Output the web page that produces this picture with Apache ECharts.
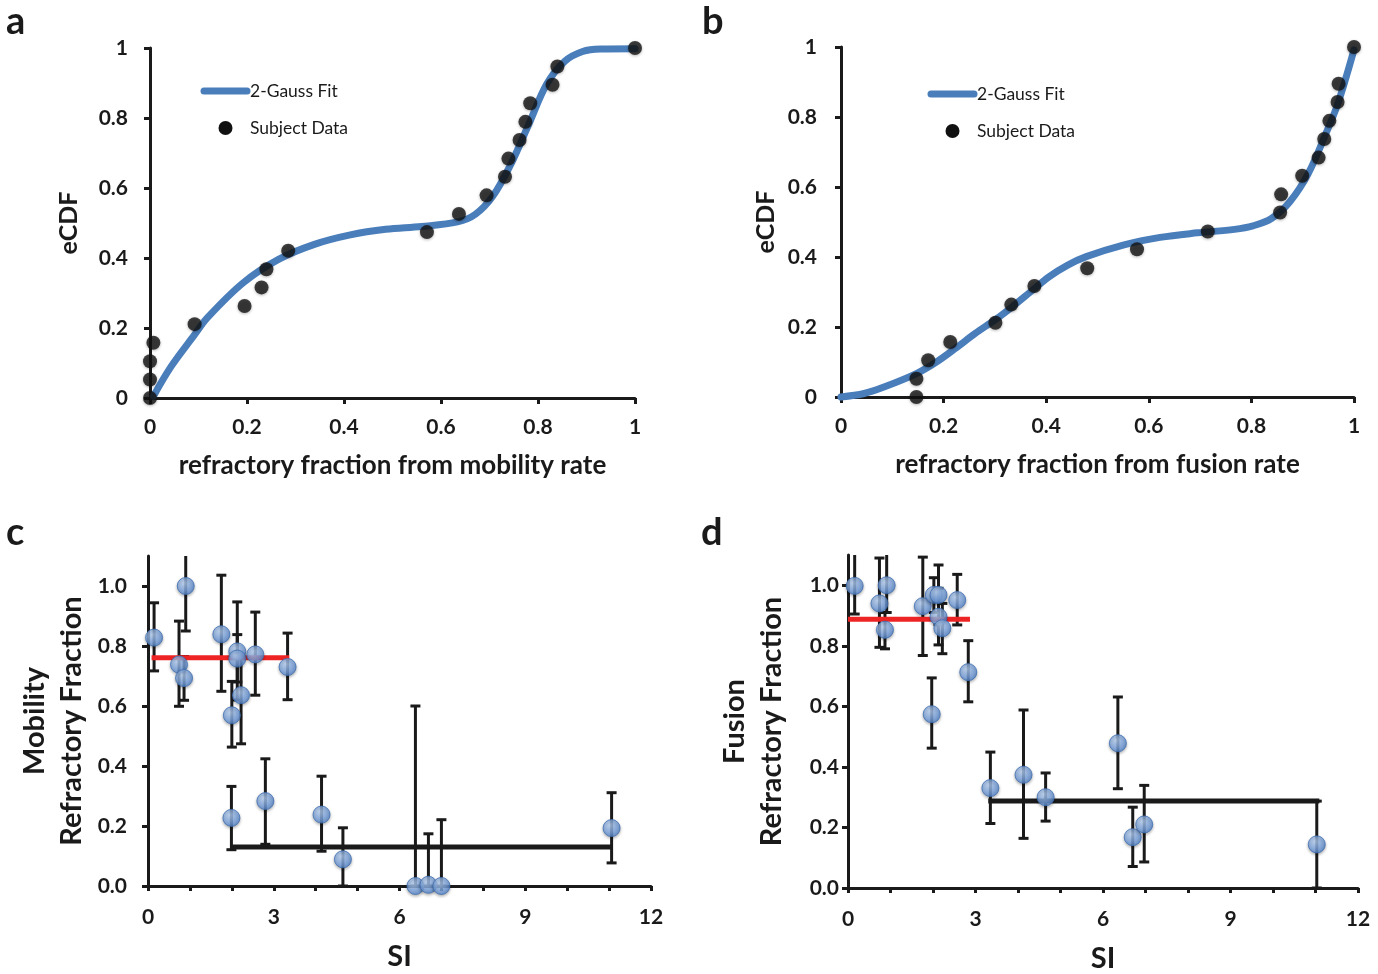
<!DOCTYPE html>
<html>
<head>
<meta charset="utf-8">
<script src="https://cdn.jsdelivr.net/npm/echarts@6/dist/echarts.min.js"></script>
<style>
html,body{margin:0;padding:0;background:#fff;}
#chart{width:1378px;height:974px;}
</style>
</head>
<body>
<div id="chart"></div>
<script>
// ---------- Panel a : eCDF of refractory fraction from mobility rate ----------
var aDataX = [0, 0, 0, 0.007, 0.092, 0.195, 0.230, 0.240, 0.285, 0.571, 0.637, 0.694, 0.732, 0.739, 0.762, 0.774, 0.784, 0.830, 0.840, 1.0];
var aDataY = [0, 0.053, 0.105, 0.158, 0.211, 0.263, 0.316, 0.368, 0.421, 0.474, 0.526, 0.579, 0.632, 0.684, 0.737, 0.789, 0.842, 0.895, 0.947, 1.0];
var aFitX = [0.007, 0.044, 0.092, 0.118, 0.192, 0.265, 0.339, 0.413, 0.486, 0.560, 0.634, 0.671, 0.707, 0.744, 0.781, 0.818, 0.855, 0.892, 0.929, 1.0];
var aFitY = [0.005, 0.091, 0.181, 0.229, 0.329, 0.396, 0.439, 0.466, 0.482, 0.490, 0.503, 0.525, 0.577, 0.668, 0.782, 0.897, 0.962, 0.990, 0.997, 0.998];

// ---------- Panel b : eCDF of refractory fraction from fusion rate ----------
var bDataX = [0.147, 0.147, 0.170, 0.213, 0.301, 0.332, 0.377, 0.480, 0.577, 0.715, 0.856, 0.858, 0.899, 0.931, 0.942, 0.952, 0.968, 0.970, 1.0];
var bDataY = [0, 0.052, 0.105, 0.157, 0.212, 0.264, 0.317, 0.368, 0.422, 0.473, 0.527, 0.579, 0.632, 0.684, 0.737, 0.789, 0.843, 0.895, 1.0];
var bFitX = [0, 0.045, 0.081, 0.147, 0.189, 0.225, 0.261, 0.301, 0.334, 0.370, 0.406, 0.442, 0.478, 0.550, 0.622, 0.695, 0.767, 0.803, 0.839, 0.875, 0.911, 0.947, 0.969, 1.0];
var bFitY = [0, 0.010, 0.027, 0.067, 0.103, 0.141, 0.181, 0.221, 0.258, 0.301, 0.344, 0.377, 0.401, 0.434, 0.456, 0.469, 0.479, 0.489, 0.510, 0.558, 0.639, 0.759, 0.840, 0.992];

// ---------- Panel c : Mobility refractory fraction vs SI ----------
var cSI   = [0.145, 0.90, 0.74, 0.86, 1.75, 2.13, 2.13, 2.00, 2.22, 2.56, 3.33, 1.99, 2.80, 4.14, 4.65, 6.38, 6.69, 7.00, 11.06];
var cVal  = [0.828, 1.000, 0.738, 0.693, 0.839, 0.782, 0.758, 0.569, 0.636, 0.772, 0.730, 0.227, 0.283, 0.238, 0.089, 0.000, 0.004, 0.000, 0.193];
var cLow  = [0.717, 0.850, 0.599, 0.619, 0.649, 0.620, 0.680, 0.463, 0.474, 0.636, 0.621, 0.121, 0.139, 0.116, 0.000, 0.000, 0.000, 0.000, 0.077];
var cHigh = [0.944, 1.150, 0.883, 0.765, 1.036, 0.947, 0.838, 0.682, 0.760, 0.913, 0.843, 0.332, 0.424, 0.366, 0.194, 0.600, 0.174, 0.221, 0.311];
var cMeanLowSI  = {y: 0.761, x: [0.085, 3.37]};
var cMeanHighSI = {y: 0.130, x: [1.99, 11.06]};

// ---------- Panel d : Fusion refractory fraction vs SI ----------
var dSI   = [0.157, 0.74, 0.91, 0.87, 1.76, 2.02, 2.13, 2.13, 2.22, 2.57, 2.83, 1.97, 3.35, 4.13, 4.65, 6.35, 6.70, 6.97, 11.03];
var dVal  = [0.998, 0.940, 1.000, 0.853, 0.931, 0.968, 0.968, 0.896, 0.858, 0.951, 0.713, 0.574, 0.330, 0.374, 0.300, 0.478, 0.168, 0.210, 0.144];
var dLow  = [0.905, 0.795, 0.910, 0.790, 0.768, 0.910, 0.870, 0.803, 0.774, 0.869, 0.615, 0.462, 0.213, 0.164, 0.221, 0.328, 0.071, 0.086, 0.000];
var dHigh = [1.150, 1.090, 1.150, 0.910, 1.093, 1.025, 1.067, 0.990, 0.940, 1.036, 0.817, 0.694, 0.449, 0.588, 0.380, 0.631, 0.267, 0.339, 0.287];
var dMeanLowSI  = {y: 0.888, x: [0.0, 2.87]};
var dMeanHighSI = {y: 0.287, x: [3.30, 11.09]};

// ---------- tick labels / legend ----------
var cdfTicks = [0, 0.2, 0.4, 0.6, 0.8, 1];
var siLabelTicks = [0, 3, 6, 9, 12];
var fracTicks = [0, 0.2, 0.4, 0.6, 0.8, 1.0];
var legendNames = ['2-Gauss Fit', 'Subject Data'];

var FONT = 'Lato';
var INK = '#1a1a1a';

function zip(xs, ys) { return xs.map(function (x, i) { return [x, ys[i]]; }); }
function zip3(xs, a, b) { return xs.map(function (x, i) { return [x, a[i], b[i]]; }); }

var chart = echarts.init(document.getElementById('chart'), null, {renderer: 'canvas'});

var grids = [
  {left: 150, top: 48, width: 485, height: 350},
  {left: 841, top: 47, width: 513, height: 350},
  {left: 148, top: 556, width: 503, height: 330},
  {left: 848, top: 555, width: 510, height: 334}
];

function axisBase(extra) {
  var o = {
    type: 'value',
    axisLine: {show: true, onZero: false, lineStyle: {color: INK, width: 3}},
    axisTick: {show: true, inside: false, length: 6, lineStyle: {color: INK, width: 3}},
    splitLine: {show: false},
    axisLabel: {color: INK, fontFamily: FONT, fontWeight: 'bold', fontSize: 21},
    nameTextStyle: {color: INK, fontFamily: FONT, fontWeight: 'bold'}
  };
  for (var k in extra) {
    if (typeof extra[k] === 'object' && !Array.isArray(extra[k]) && o[k]) {
      for (var j in extra[k]) o[k][j] = extra[k][j];
    } else o[k] = extra[k];
  }
  return o;
}

var xAxes = [
  axisBase({gridIndex: 0, min: 0, max: 1, interval: 0.2, name: 'refractory fraction from mobility rate',
    nameLocation: 'middle', nameGap: 55, nameTextStyle: {fontSize: 26},
    axisLabel: {margin: 19, customValues: cdfTicks}}),
  axisBase({gridIndex: 1, min: 0, max: 1, interval: 0.2, name: 'refractory fraction from fusion rate',
    nameLocation: 'middle', nameGap: 55, nameTextStyle: {fontSize: 26},
    axisLabel: {margin: 19, customValues: cdfTicks}}),
  axisBase({gridIndex: 2, min: 0, max: 12, interval: 1, name: 'SI',
    nameLocation: 'middle', nameGap: 56, nameTextStyle: {fontSize: 29},
    axisTick: {length: 5},
    axisLabel: {margin: 21, customValues: siLabelTicks}}),
  axisBase({gridIndex: 3, min: 0, max: 12, interval: 1, name: 'SI',
    nameLocation: 'middle', nameGap: 56, nameTextStyle: {fontSize: 29},
    axisTick: {length: 5},
    axisLabel: {margin: 21, customValues: siLabelTicks}})
];

var yAxes = [
  axisBase({gridIndex: 0, min: 0, max: 1, interval: 0.2, name: 'eCDF', nameLocation: 'middle', nameRotate: 90,
    nameGap: 69, nameTextStyle: {fontSize: 25}, axisLabel: {margin: 22, customValues: cdfTicks}}),
  axisBase({gridIndex: 1, min: 0, max: 1, interval: 0.2, name: 'eCDF', nameLocation: 'middle', nameRotate: 90,
    nameGap: 63, nameTextStyle: {fontSize: 25}, axisLabel: {margin: 24, customValues: cdfTicks}}),
  axisBase({gridIndex: 2, min: 0, max: 1.1, interval: 0.1, name: 'Mobility\nRefractory Fraction', nameLocation: 'middle', nameRotate: 90,
    nameGap: 58, nameTextStyle: {fontSize: 29, lineHeight: 37, align: 'center'},
    axisTick: {customValues: fracTicks},
    axisLabel: {margin: 21, customValues: fracTicks, formatter: function (v) { return v.toFixed(1); }}}),
  axisBase({gridIndex: 3, min: 0, max: 1.1, interval: 0.1, name: 'Fusion\nRefractory Fraction', nameLocation: 'middle', nameRotate: 90,
    nameGap: 58, nameTextStyle: {fontSize: 29, lineHeight: 37, align: 'center'},
    axisTick: {customValues: fracTicks},
    axisLabel: {margin: 9, customValues: fracTicks, formatter: function (v) { return v.toFixed(1); }}})
];

var fitColor = '#4a7ebb';

function fitSeries(idx, xs, ys) {
  return {name: legendNames[0], type: 'line', xAxisIndex: idx, yAxisIndex: idx, data: zip(xs, ys),
    smooth: 0.35, symbol: 'none', clip: false,
    lineStyle: {color: fitColor, width: 7, cap: 'round', join: 'round'}, itemStyle: {color: fitColor}, z: 2};
}
function dotSeries(idx, xs, ys) {
  return {name: legendNames[1], type: 'scatter', xAxisIndex: idx, yAxisIndex: idx, data: zip(xs, ys),
    symbol: 'circle', symbolSize: 14, clip: false,
    itemStyle: {color: '#111', shadowBlur: 3, shadowColor: 'rgba(0,0,0,0.35)', shadowOffsetY: 1}, z: 3};
}
function errSeries(idx, xs, lo, hi) {
  return {type: 'custom', xAxisIndex: idx, yAxisIndex: idx, data: zip3(xs, lo, hi), clip: true, z: 2,
    renderItem: function (params, api) {
      var x = api.value(0);
      var p1 = api.coord([x, api.value(1)]);
      var p2 = api.coord([x, api.value(2)]);
      var cap = 5;
      var st = {stroke: INK, lineWidth: 3};
      return {type: 'group', children: [
        {type: 'line', shape: {x1: p1[0], y1: p1[1], x2: p2[0], y2: p2[1]}, style: st},
        {type: 'line', shape: {x1: p1[0] - cap, y1: p1[1], x2: p1[0] + cap, y2: p1[1]}, style: st},
        {type: 'line', shape: {x1: p2[0] - cap, y1: p2[1], x2: p2[0] + cap, y2: p2[1]}, style: st}
      ]};
    }};
}
function meanSeries(idx, m, color) {
  return {type: 'line', xAxisIndex: idx, yAxisIndex: idx, data: [[m.x[0], m.y], [m.x[1], m.y]],
    symbol: 'none', clip: false, lineStyle: {color: color, width: 5}, z: 3, silent: true};
}
var blueBall = {
  color: {type: 'radial', x: 0.38, y: 0.32, r: 0.75,
    colorStops: [{offset: 0, color: '#b9d2f3'}, {offset: 0.6, color: '#7aa3de'}, {offset: 1, color: '#4d7fc6'}]},
  borderColor: '#3f6fb3', borderWidth: 1,
  shadowBlur: 3, shadowColor: 'rgba(0,0,0,0.35)', shadowOffsetY: 1.5
};
function ballSeries(idx, xs, ys) {
  return {type: 'scatter', xAxisIndex: idx, yAxisIndex: idx, data: zip(xs, ys), symbol: 'circle',
    symbolSize: 17, clip: false, itemStyle: blueBall, z: 4};
}

// legend drawn as graphic elements (line icon + dot icon + real text)
function legendGraphic(x0, y0) {
  var txt = {fontFamily: FONT, fontSize: 17.5, fill: INK, verticalAlign: 'middle'};
  return [
    {type: 'line', shape: {x1: x0, y1: y0, x2: x0 + 43, y2: y0}, style: {stroke: fitColor, lineWidth: 7, lineCap: 'round'}, z: 10},
    {type: 'circle', shape: {cx: x0 + 21.5, cy: y0 + 37, r: 7}, style: {fill: '#111'}, z: 10},
    {type: 'text', x: x0 + 46, y: y0, style: Object.assign({text: legendNames[0]}, txt), z: 10},
    {type: 'text', x: x0 + 46, y: y0 + 37, style: Object.assign({text: legendNames[1]}, txt), z: 10}
  ];
}

function panelLabel(t, x, y) {
  return {type: 'text', left: x, top: y, style: {text: t, fontFamily: FONT, fontWeight: 'bold', fontSize: 38, fill: INK}};
}

chart.setOption({
  animation: false,
  backgroundColor: '#fff',
  grid: grids,
  xAxis: xAxes,
  yAxis: yAxes,
  graphic: [
    panelLabel('a', 6, 3),
    panelLabel('b', 702, 3),
    panelLabel('c', 6, 514),
    panelLabel('d', 701, 514)
  ].concat(legendGraphic(204, 91)).concat(legendGraphic(931, 94)),
  series: [
    fitSeries(0, aFitX, aFitY), dotSeries(0, aDataX, aDataY),
    fitSeries(1, bFitX, bFitY), dotSeries(1, bDataX, bDataY),
    errSeries(2, cSI, cLow, cHigh), meanSeries(2, cMeanLowSI, '#ee2424'), meanSeries(2, cMeanHighSI, INK), ballSeries(2, cSI, cVal),
    errSeries(3, dSI, dLow, dHigh), meanSeries(3, dMeanLowSI, '#ee2424'), meanSeries(3, dMeanHighSI, INK), ballSeries(3, dSI, dVal)
  ]
});
</script>
</body>
</html>
